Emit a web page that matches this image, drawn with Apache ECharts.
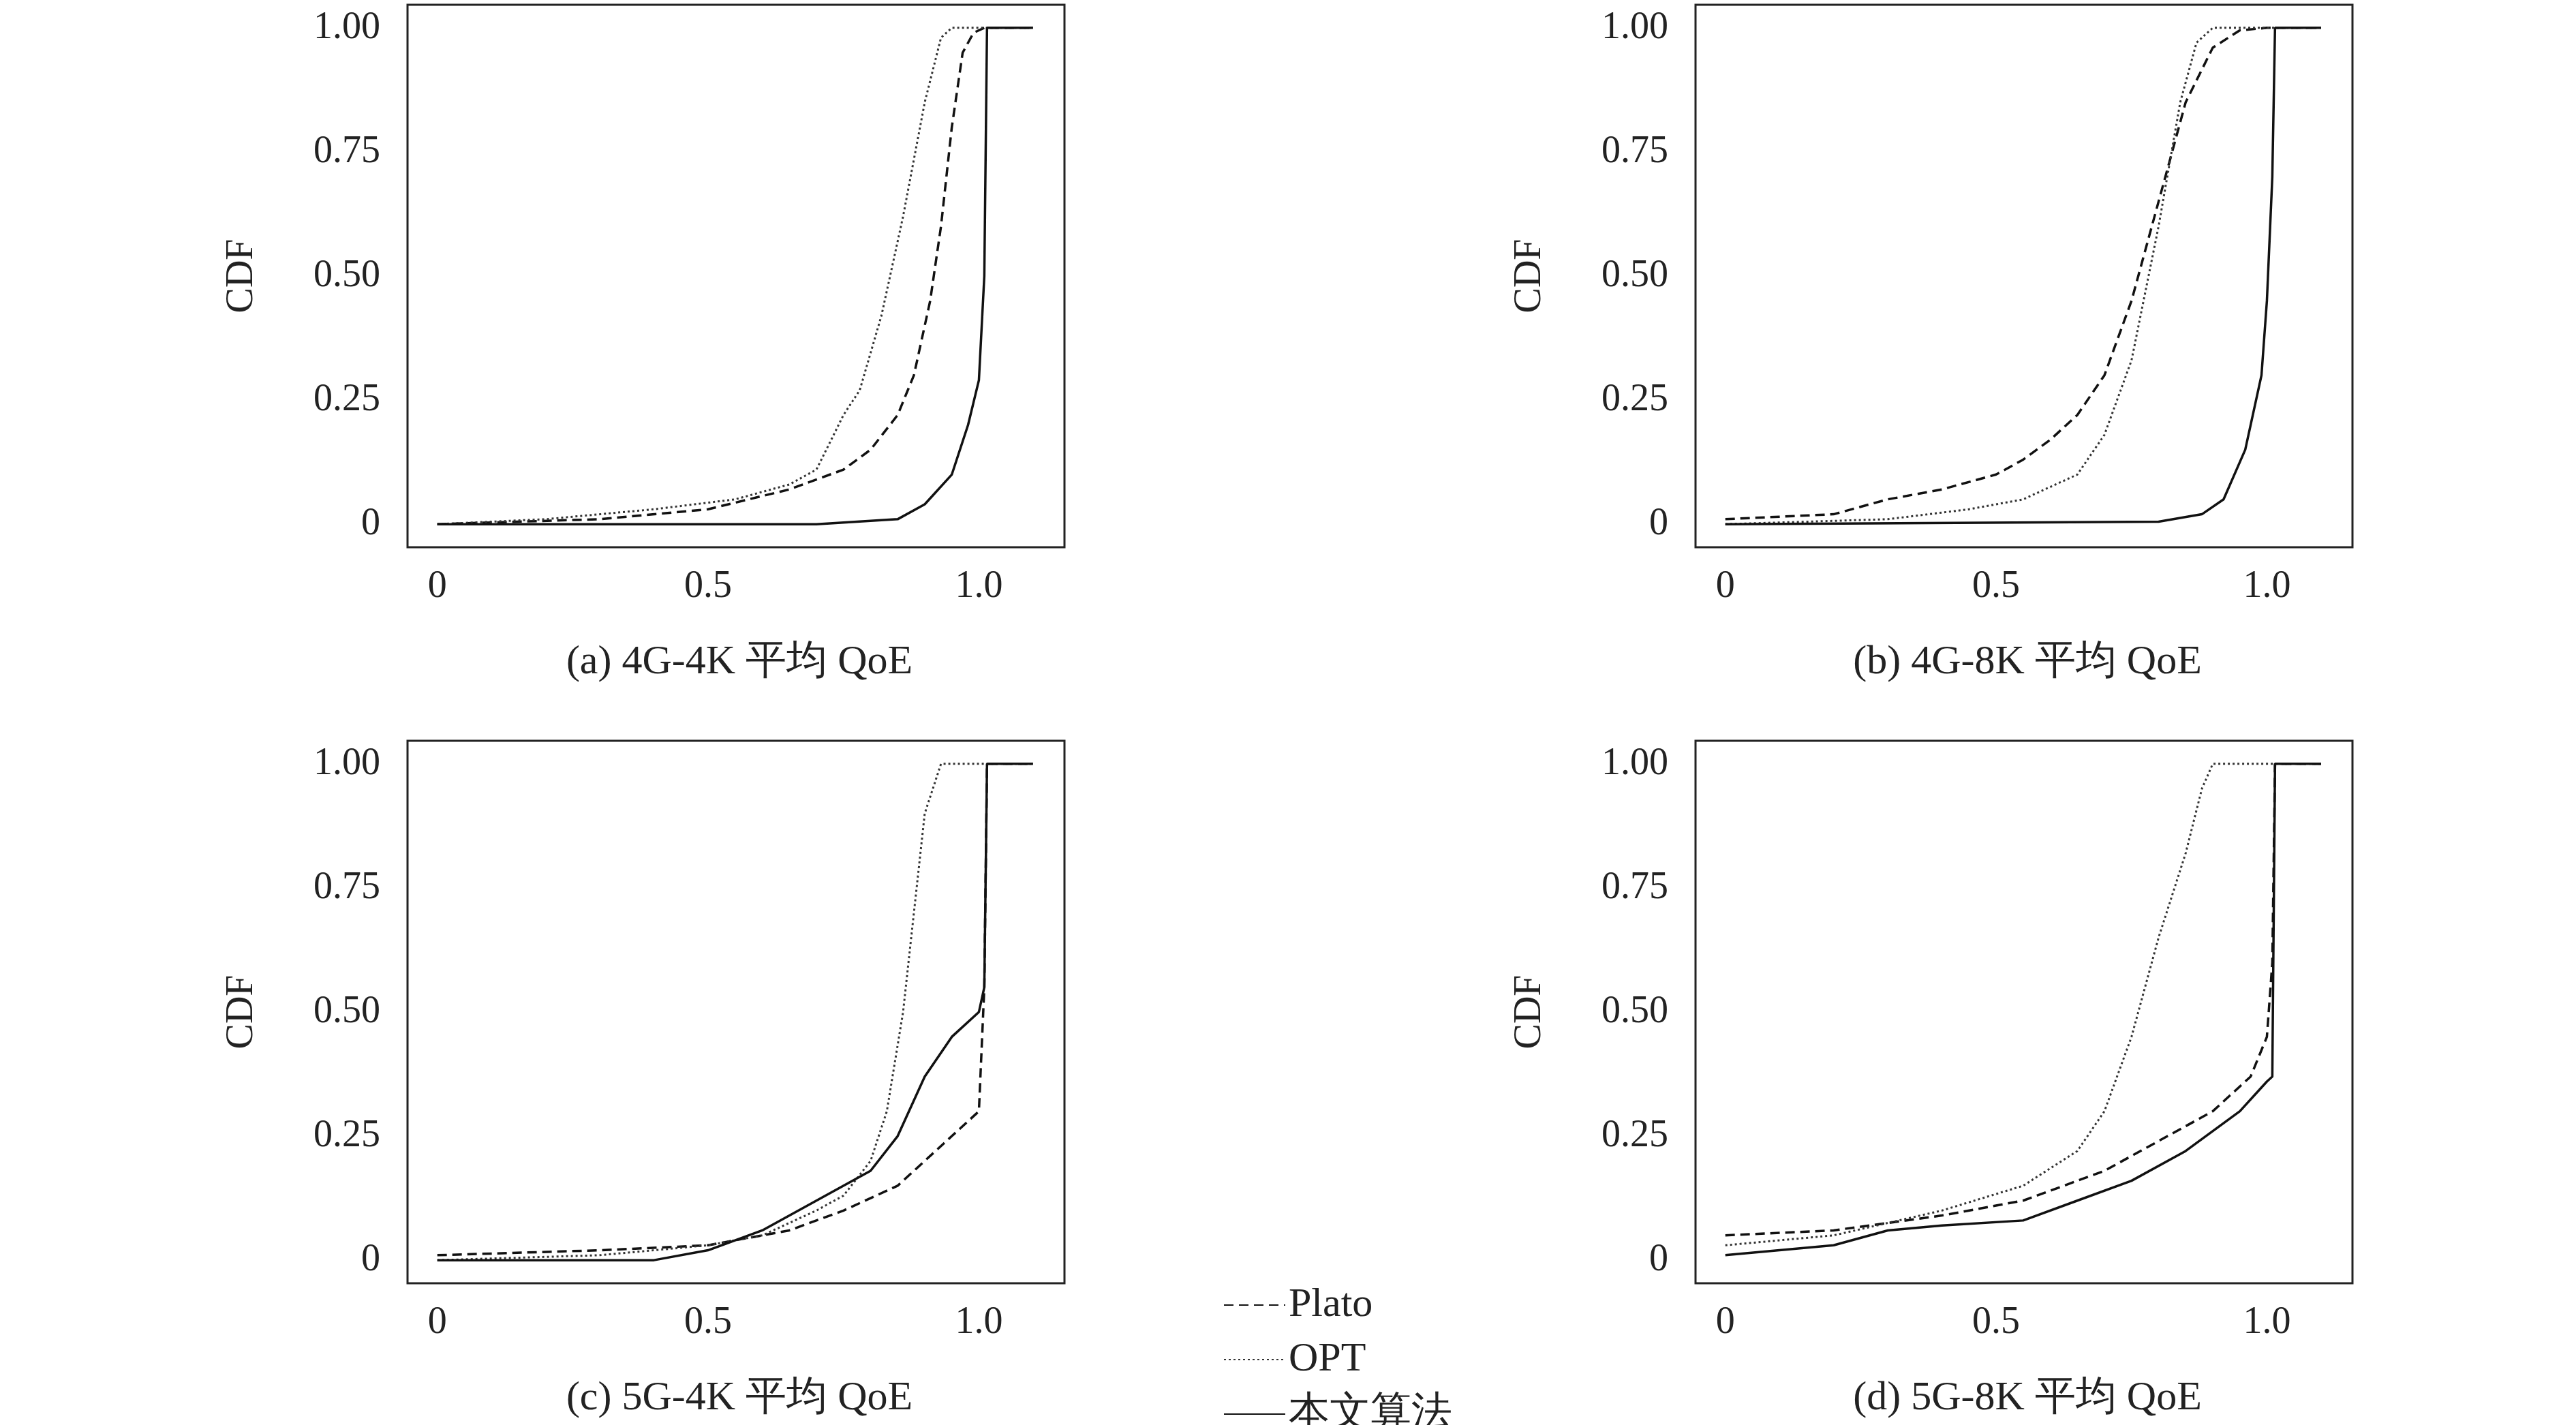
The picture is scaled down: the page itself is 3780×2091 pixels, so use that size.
<!DOCTYPE html>
<html lang="zh" style="height: 100%">
<head>
<meta charset="utf-8">
<title>CDF of average QoE</title>
</head>
<body style="height: 100%; margin: 0; background: #fff">
<div id="container" style="height: 100%"></div>
<script type="text/javascript" src="https://cdn.jsdelivr.net/npm/echarts/dist/echarts.min.js"></script>
<script type="text/javascript">
var dom = document.getElementById('container');
var myChart = echarts.init(dom);

var seriesNames = ['Plato', 'OPT', '本文算法'];
var panelTitles = ['(a) 4G-4K 平均 QoE', '(b) 4G-8K 平均 QoE', '(c) 5G-4K 平均 QoE', '(d) 5G-8K 平均 QoE'];
var yTicks = ['0', '0.25', '0.50', '0.75', '1.00'];

// [QoE, CDF] pairs
var platoA = [[0,0],[0.3,0.01],[0.5,0.03],[0.65,0.07],[0.75,0.11],[0.8,0.15],[0.85,0.22],[0.88,0.3],[0.91,0.45],[0.93,0.6],[0.95,0.8],[0.97,0.95],[0.99,0.99],[1.01,1],[1.1,1]];
var optA = [[0,0],[0.2,0.01],[0.4,0.03],[0.55,0.05],[0.65,0.08],[0.7,0.11],[0.75,0.22],[0.78,0.27],[0.82,0.42],[0.86,0.62],[0.9,0.85],[0.93,0.98],[0.95,1],[1.1,1]];
var oursA = [[0,0],[0.7,0],[0.85,0.01],[0.9,0.04],[0.95,0.1],[0.98,0.2],[1.0,0.29],[1.01,0.5],[1.015,1],[1.1,1]];

var platoB = [[0,0.01],[0.2,0.02],[0.3,0.05],[0.4,0.07],[0.5,0.1],[0.55,0.13],[0.6,0.17],[0.65,0.22],[0.7,0.3],[0.75,0.45],[0.8,0.65],[0.85,0.85],[0.9,0.96],[0.95,0.995],[1.0,1],[1.1,1]];
var optB = [[0,0],[0.3,0.01],[0.45,0.03],[0.55,0.05],[0.65,0.1],[0.7,0.18],[0.75,0.33],[0.8,0.6],[0.84,0.85],[0.87,0.97],[0.9,1],[1.1,1]];
var oursB = [[0,0],[0.8,0.005],[0.88,0.02],[0.92,0.05],[0.96,0.15],[0.99,0.3],[1.0,0.45],[1.01,0.7],[1.015,1],[1.1,1]];

var platoC = [[0,0.01],[0.3,0.02],[0.5,0.03],[0.65,0.06],[0.75,0.1],[0.85,0.15],[0.9,0.2],[0.95,0.25],[1.0,0.3],[1.01,0.55],[1.015,1],[1.1,1]];
var optC = [[0,0],[0.3,0.01],[0.5,0.03],[0.6,0.05],[0.7,0.1],[0.75,0.13],[0.8,0.2],[0.83,0.3],[0.86,0.5],[0.88,0.7],[0.9,0.9],[0.93,1],[1.1,1]];
var oursC = [[0,0],[0.4,0],[0.5,0.02],[0.6,0.06],[0.7,0.12],[0.8,0.18],[0.85,0.25],[0.9,0.37],[0.95,0.45],[1.0,0.5],[1.01,0.55],[1.015,1],[1.1,1]];

var platoD = [[0,0.05],[0.2,0.06],[0.4,0.09],[0.55,0.12],[0.7,0.18],[0.8,0.24],[0.9,0.3],[0.97,0.37],[1.0,0.45],[1.01,0.6],[1.015,1],[1.1,1]];
var optD = [[0,0.03],[0.2,0.05],[0.4,0.1],[0.55,0.15],[0.65,0.22],[0.7,0.3],[0.75,0.45],[0.8,0.65],[0.85,0.82],[0.88,0.95],[0.9,1],[1.1,1]];
var oursD = [[0,0.01],[0.2,0.03],[0.3,0.06],[0.4,0.07],[0.55,0.08],[0.65,0.12],[0.75,0.16],[0.85,0.22],[0.95,0.3],[1.0,0.36],[1.01,0.37],[1.015,1],[1.1,1]];

var panelData = [[platoA, optA, oursA], [platoB, optB, oursB], [platoC, optC, oursC], [platoD, optD, oursD]];

var font = 'Liberation Serif';
var lefts = [598, 2488];
var tops = [7, 1087];
var lineStyles = [
  { type: [14, 8], width: 3.5, color: '#111' },
  { type: [3, 4], width: 3, color: '#333' },
  { type: 'solid', width: 3.5, color: '#111' }
];

var grids = [], xAxes = [], yAxes = [], series = [], titles = [];
for (var p = 0; p < 4; p++) {
  var gl = lefts[p % 2], gt = tops[Math.floor(p / 2)];
  grids.push({ left: gl, top: gt, width: 964, height: 796, show: true, borderColor: '#222', borderWidth: 3, backgroundColor: 'transparent' });
  xAxes.push({
    type: 'value', gridIndex: p, min: -0.055, max: 1.158,
    axisLine: { show: false, onZero: false }, splitLine: { show: false },
    axisTick: { show: false },
    axisLabel: {
      fontFamily: font, fontSize: 56, color: '#222', margin: 30,
      customValues: [0, 0.5, 1.0],
      formatter: function (v) { return v === 0 ? '0' : v.toFixed(1); }
    }
  });
  yAxes.push({
    type: 'value', gridIndex: p, min: -0.0465, max: 1.0465,
    name: 'CDF', nameLocation: 'middle', nameGap: 215, nameRotate: 90,
    nameTextStyle: { fontFamily: font, fontSize: 56, color: '#222' },
    axisLine: { show: false, onZero: false }, splitLine: { show: false },
    axisTick: { show: false },
    axisLabel: {
      fontFamily: font, fontSize: 56, color: '#222', margin: 40,
      customValues: [0, 0.25, 0.5, 0.75, 1],
      formatter: function (v) { return yTicks[Math.round(v * 4)]; }
    }
  });
  titles.push({
    text: panelTitles[p], left: gl + 482, top: gt + 930, textAlign: 'center',
    textStyle: { fontFamily: font, fontSize: 60, fontWeight: 'normal', color: '#222' }
  });
  for (var s = 0; s < 3; s++) {
    series.push({
      name: seriesNames[s], type: 'line', xAxisIndex: p, yAxisIndex: p,
      data: panelData[p][s], symbol: 'none', smooth: false,
      lineStyle: lineStyles[s], itemStyle: { color: '#111' }
    });
  }
}

var option = {
  backgroundColor: '#fff',
  animation: false,
  title: titles,
  legend: {
    orient: 'vertical', left: 1790, top: 1880, height: 220,
    data: seriesNames, itemWidth: 90, itemHeight: 50, itemGap: 20,
    itemStyle: { opacity: 0 },
    textStyle: { fontFamily: font, fontSize: 60, color: '#222' }
  },
  grid: grids, xAxis: xAxes, yAxis: yAxes, series: series
};

myChart.setOption(option);
window.addEventListener('resize', myChart.resize);
</script>
</body>
</html>
